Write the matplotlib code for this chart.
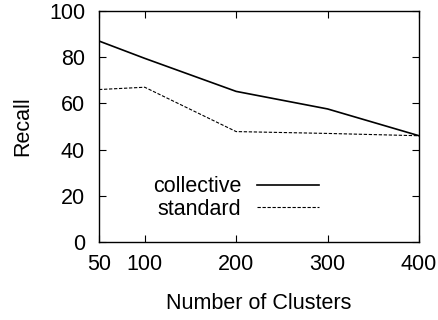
import matplotlib
matplotlib.use("Agg")
import matplotlib.pyplot as plt

plt.rcParams['font.family'] = ['Liberation Sans', 'DejaVu Sans']

clusters = [50, 100, 200, 300, 400]
collective = [87, 79.5, 65.2, 57.6, 46]
standard = [66, 67, 47.8, 47, 46]
x_ticks = [50, 100, 200, 300, 400]
y_ticks = [0, 20, 40, 60, 80, 100]

fs = 15.5
fig = plt.figure(figsize=(4.38, 3.2), dpi=100)
ax = fig.add_axes([99/438, 1 - 242/320, 320/438, 231/320])

ax.plot(clusters, collective, color='black', lw=1.2, label='collective')
ax.plot(clusters, standard, color='black', lw=0.8, ls=(0, (3, 1.5)), label='standard')

ax.set_xlim(50, 400)
ax.set_ylim(0, 100)
ax.set_xticks(x_ticks)
ax.set_yticks(y_ticks)
ax.tick_params(direction='in', top=True, right=True, labelsize=fs, length=5)
ax.tick_params(axis='x', pad=8.5)
ax.tick_params(axis='y', pad=10)
for s in ax.spines.values():
    s.set_linewidth(1.0)

ax.set_xlabel('Number of Clusters', fontsize=fs, labelpad=13)
ax.set_ylabel('Recall', fontsize=fs, labelpad=11)

ax.legend(loc='center', bbox_to_anchor=(236/438, 1 - 198/320), bbox_transform=fig.transFigure,
          markerfirst=False, frameon=False, fontsize=fs, handlelength=2.9,
          labelspacing=0.08, handletextpad=0.7)

fig.savefig('out.png', dpi=100)
